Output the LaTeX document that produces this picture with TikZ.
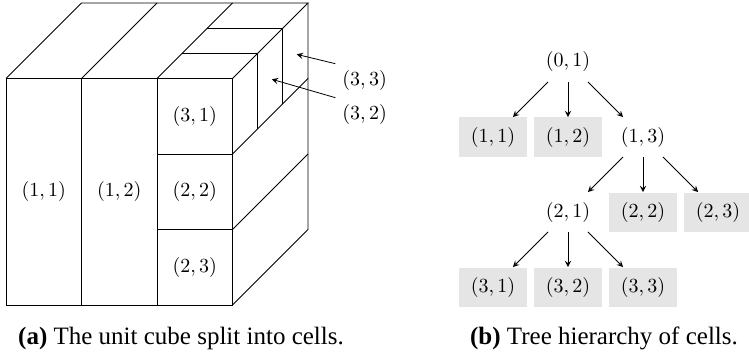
\documentclass[tikz,border=0pt]{standalone}
\usepackage{fontspec}
\setmainfont{Liberation Serif}
\usetikzlibrary{positioning}
\begin{document}
\begin{tikzpicture}[
  cell/.style={minimum width=34pt, minimum height=19.5pt, inner sep=0pt},
  leaf/.style={cell, fill=black!10},
  caption/.style={anchor=base, font=\fontsize{12.5}{15}\selectfont},
  node distance=37.5pt and 37.5pt, on grid
]
\useasboundingbox (0,0) rectangle (374.5pt,-176.5pt);
\begin{scope}[shift={(3pt,-152.5pt)}, x=37.75pt, y=37.75pt]
\draw (0,0) rectangle (3,3);
\draw (1,0) -- (1,3);
\draw (2,0) -- (2,3);
\draw (2,1) -- (3,1);
\draw (2,2) -- (3,2);
\draw (0,3) -- (1,4) -- (4,4) -- (3,3);
\draw (1,3) -- (2,4);
\draw (2,3) -- (3,4);
\draw (4,4) -- (4,1) -- (3,0);
\draw (3,1) -- (4,2);
\draw (3,2) -- (4,3);
\draw (2+1/3,3+1/3) -- (3+1/3,3+1/3) -- (3+1/3,2+1/3);
\draw (2+2/3,3+2/3) -- (3+2/3,3+2/3) -- (3+2/3,2+2/3);
\node (c11) at (0.5,1.5) {$(1,1)$};
\node (c12) at (1.5,1.5) {$(1,2)$};
\node (c31) at (2.5,2.5) {$(3,1)$};
\node (c22) at (2.5,1.5) {$(2,2)$};
\node (c23) at (2.5,0.5) {$(2,3)$};
\coordinate (p33) at (3.85,3.32);
\coordinate (p32) at (3.52,2.99);
\node (l33) at (4.75,2.97) {$(3,3)$};
\node (l32) at (4.75,2.52) {$(3,2)$};
\draw[-stealth] (l33.north west) -- (p33);
\draw[-stealth] (l32.north west) -- (p32);
\end{scope}
\node[cell] (r) at (284pt,-31pt) {$(0,1)$};
\node[leaf, below left=of r] (n11) {$(1,1)$};
\node[leaf, below=of r] (n12) {$(1,2)$};
\node[cell, below right=of r] (n13) {$(1,3)$};
\node[cell, below left=of n13] (n21) {$(2,1)$};
\node[leaf, below=of n13] (n22) {$(2,2)$};
\node[leaf, below right=of n13] (n23) {$(2,3)$};
\node[leaf, below left=of n21] (n31) {$(3,1)$};
\node[leaf, below=of n21] (n32) {$(3,2)$};
\node[leaf, below right=of n21] (n33) {$(3,3)$};
\draw[-stealth] (r) -- (n11);
\draw[-stealth] (r) -- (n12);
\draw[-stealth] (r) -- (n13);
\draw[-stealth] (n13) -- (n21);
\draw[-stealth] (n13) -- (n22);
\draw[-stealth] (n13) -- (n23);
\draw[-stealth] (n21) -- (n31);
\draw[-stealth] (n21) -- (n32);
\draw[-stealth] (n21) -- (n33);
\node[caption] (capa) at (90.5pt,-172pt) {\textbf{(a)} The unit cube split into cells.};
\node[caption] (capb) at (302pt,-172pt) {\textbf{(b)} Tree hierarchy of cells.};
\end{tikzpicture}
\end{document}
